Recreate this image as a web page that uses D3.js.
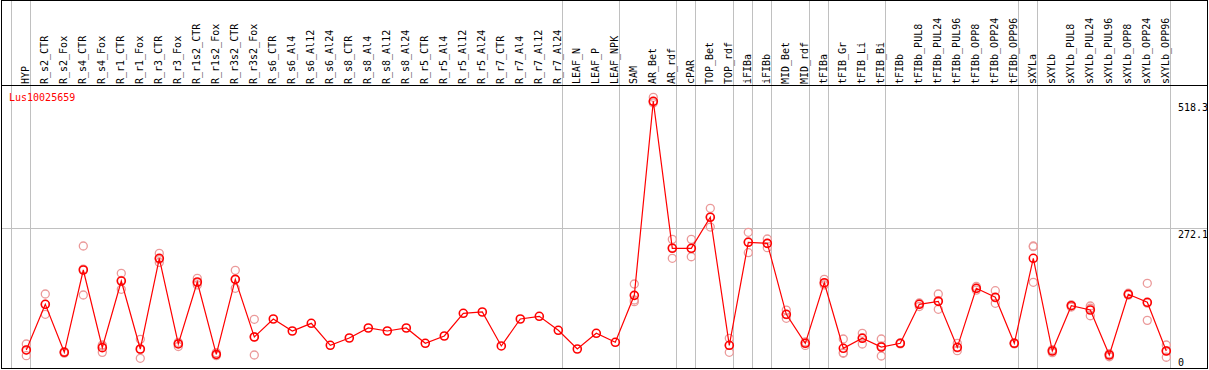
<!DOCTYPE html>
<html>
<head>
<meta charset="utf-8">
<script src="https://cdn.jsdelivr.net/npm/d3@7"></script>
<style>
  html, body { margin: 0; padding: 0; background: #fff; }
  svg { display: block; }
  text { font-family: "DejaVu Sans Mono", monospace; font-size: 10px; }
</style>
</head>
<body>
<svg id="chart" width="1209" height="370"></svg>
<script>
const title = "Lus10025659";
const categories = ["HYP","R_s2_CTR","R_s2_Fox","R_s4_CTR","R_s4_Fox","R_r1_CTR","R_r1_Fox","R_r3_CTR","R_r3_Fox",
  "R_r1s2_CTR","R_r1s2_Fox","R_r3s2_CTR","R_r3s2_Fox","R_s6_CTR","R_s6_Al4","R_s6_Al12","R_s6_Al24",
  "R_s8_CTR","R_s8_Al4","R_s8_Al12","R_s8_Al24","R_r5_CTR","R_r5_Al4","R_r5_Al12","R_r5_Al24",
  "R_r7_CTR","R_r7_Al4","R_r7_Al12","R_r7_Al24","LEAF_N","LEAF_P","LEAF_NPK","SAM","AR_Bet","AR_rdf",
  "cPAR","TOP_Bet","TOP_rdf","iFIBa","iFIBb","MID_Bet","MID_rdf","tFIBa","tFIB_Gr","tFIB_Li","tFIB_Bi",
  "tFIBb","tFIBb_PUL8","tFIBb_PUL24","tFIBb_PUL96","tFIBb_OPP8","tFIBb_OPP24","tFIBb_OPP96",
  "sXYLa","sXYLb","sXYLb_PUL8","sXYLb_PUL24","sXYLb_PUL96","sXYLb_OPP8","sXYLb_OPP24","sXYLb_OPP96"];
const means = [33.2,122.3,28.7,189.2,37.7,167.7,35.1,212,44.9,165.8,24.7,171,58.5,93.6,70.2,85.2,42.3,
  56.6,76.1,70.2,76.1,46.2,60.5,104.7,107.3,41,93.6,98.9,71.6,35.1,65.7,48.2,139.8,518.3,231.5,
  231.5,292,42.3,243.2,241.2,102.8,46.2,164.4,36.5,56,39,46.2,122.3,128.1,38.4,153.5,136,46.2,
  212,31.2,119.6,111.2,23.4,141.8,126.2,31.2];
const rep1 = [44.9,142.4,30,236,42.9,182.7,54,221.8,48,173,28,188.6,93,null,null,null,null,
  null,null,null,null,null,null,null,null,null,null,null,null,null,null,null,161.9,526,249,
  249,309.5,56,262.7,249.7,111,49,171,54.6,65.7,54.6,47,124,142.4,46.2,157,148.8,47,
  234.7,34,121,119,26,144,163.2,42.9];
const rep2 = [22,102.8,27,140.4,28.6,151.5,17,204,40,160,22,153.5,23.4,null,null,null,null,
  null,null,null,null,null,null,null,null,null,null,null,null,null,null,null,130.7,518,212,
  215,273,28.7,223,232.7,95,42,160,26.7,44.9,21.5,45,118,112.5,31.8,150,124.2,45,
  165.2,28,117,100,20,140,91,19];
const rep3 = [33,122,29,191,41,169,34,210,46,164,24,171,59,null,null,null,null,
  null,null,null,null,null,null,null,null,null,null,null,null,null,null,null,127.4,515,233,
  231,293,42,244,241,102,47,163,28,57.4,41,46,125,129.4,37.2,153.5,135,46.5,
  236,31.5,120.8,114.6,24.2,141.4,124.4,31.7];
const yTicks = [518.3, 272.1, 0];
const dividersAfter = ["HYP","R_r7_Al24","LEAF_NPK","AR_rdf","cPAR","TOP_rdf","iFIBa","iFIBb",
  "MID_rdf","tFIBa","tFIB_Bi","tFIBb_OPP96","sXYLa","sXYLb_OPP96"];

const frameL = 1.5, frameR = 1207.5, frameT = 0.5, headerY = 85.5, frameB = 368.5;
const svg = d3.select("#chart");

const x = d3.scalePoint().domain(categories).range([26.3, 1166.3]);
const step = x.step();
const y = d3.scaleLinear().domain([0, 544.2]).range([367, 88]);

const grid = svg.append("g").attr("stroke", "#c0c0c0").attr("stroke-width", 1).attr("shape-rendering", "crispEdges");
grid.append("line").attr("x1", frameL).attr("x2", frameR)
  .attr("y1", Math.round(y(272.1)) + 0.5).attr("y2", Math.round(y(272.1)) + 0.5);
const divX = [x(categories[0]) - step + 3.7].concat(dividersAfter.map(c => x(c) + 3.7));
grid.selectAll("line.v").data(divX).join("line").attr("class", "v")
  .attr("x1", d => Math.round(d) + 0.5).attr("x2", d => Math.round(d) + 0.5)
  .attr("y1", frameT).attr("y2", frameB);

const frame = svg.append("g").attr("stroke", "#000").attr("stroke-width", 1).attr("fill", "none").attr("shape-rendering", "crispEdges");
frame.append("rect").attr("x", frameL).attr("y", frameT).attr("width", frameR - frameL).attr("height", frameB - frameT);
frame.append("line").attr("x1", frameL).attr("x2", frameR).attr("y1", headerY).attr("y2", headerY);

svg.append("g").selectAll("text").data(categories).join("text")
  .attr("transform", d => `translate(${x(d) + 3},84) rotate(-90)`)
  .attr("text-anchor", "start").attr("fill", "#000").text(d => d);

svg.append("text").attr("x", 9).attr("y", 101).attr("fill", "#ff0000").text(title);

svg.append("g").selectAll("text").data(yTicks).join("text")
  .attr("x", 1178)
  .attr("y", d => d === 0 ? 366 : Math.min(y(d) + 10, 366))
  .attr("fill", "#000")
  .text(d => d === 0 ? "0" : d3.format(".1f")(d));

const reps = [];
[rep1, rep2, rep3].forEach(arr => arr.forEach((v, i) => { if (v !== null) reps.push({c: categories[i], v}); }));
svg.append("g").selectAll("circle").data(reps).join("circle")
  .attr("cx", d => x(d.c)).attr("cy", d => y(d.v)).attr("r", 4)
  .attr("fill", "none").attr("stroke", "#eb9a9a").attr("stroke-width", 1.3);

const line = d3.line().x((d, i) => x(categories[i])).y(d => y(d));
svg.append("path").datum(means).attr("d", line)
  .attr("fill", "none").attr("stroke", "#ff0000").attr("stroke-width", 1.2);

svg.append("g").selectAll("circle").data(means).join("circle")
  .attr("cx", (d, i) => x(categories[i])).attr("cy", d => y(d)).attr("r", 4)
  .attr("fill", "none").attr("stroke", "#ff0000").attr("stroke-width", 1.6);
</script>
</body>
</html>
